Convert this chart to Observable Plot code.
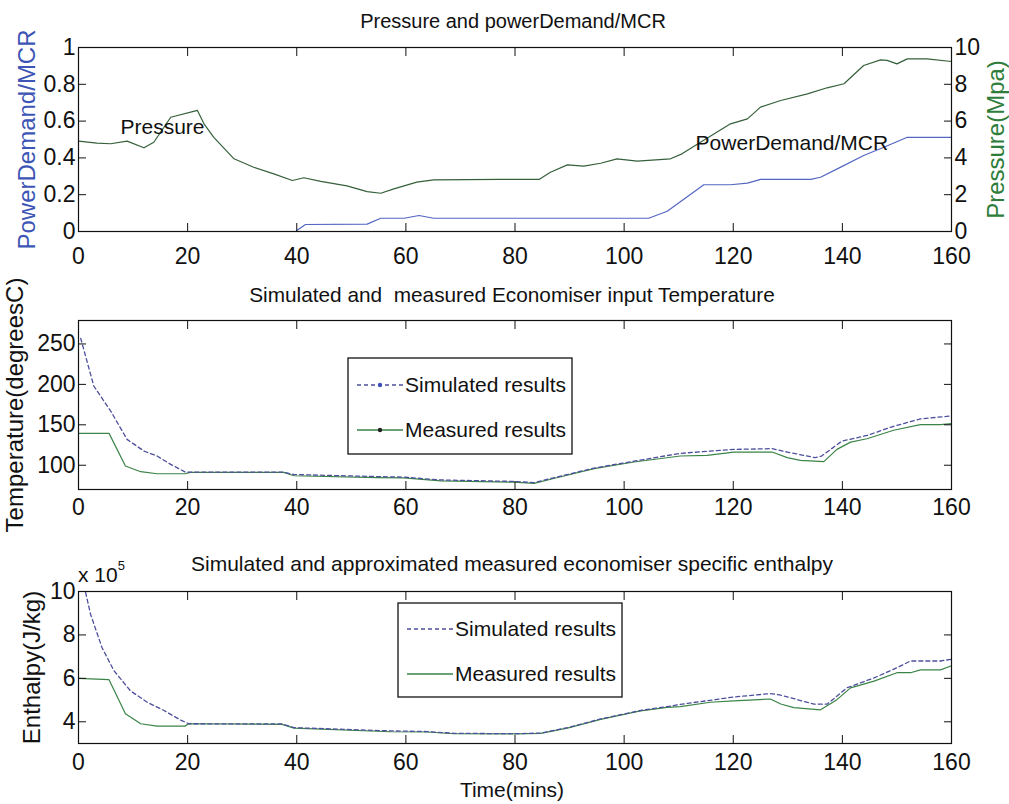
<!DOCTYPE html>
<html>
<head>
<meta charset="utf-8">
<script src="https://cdn.jsdelivr.net/npm/d3@7"></script>
<script src="https://cdn.jsdelivr.net/npm/@observablehq/plot@0.6"></script>
<style>
  body { margin: 0; background: #fff; }
  #wrap { position: relative; width: 1009px; height: 804px; overflow: hidden; background: #fff; }
  .panel { position: absolute; left: 0; }
  #overlay { position: absolute; left: 0; top: 0; pointer-events: none; }
</style>
</head>
<body>
<div id="wrap"></div>
<script>
// ---------- data ----------
const xTicks = [0, 20, 40, 60, 80, 100, 120, 140, 160];
const powerTicks = [0, 0.2, 0.4, 0.6, 0.8, 1];
const pressTicks = [0, 2, 4, 6, 8, 10];
const tempTicks = [100, 150, 200, 250];
const enthTicks = [4, 6, 8, 10];

// Panel 1: pressure (MPa) and power demand / MCR
const pressT = [0, 3.4, 5.9, 8.9, 12, 13.8, 16.9, 21.8, 23, 24.8, 28.5, 32.1, 35.8, 39.2, 41.3, 44.4, 49.2, 52.9, 55.4, 57.8, 62, 65.1, 77.3, 84.4, 86.5, 89.6, 92.6, 95.7, 98.7, 102.4, 108.5, 110.6, 114, 119.5, 122.6, 125, 128.7, 133.6, 137.2, 140.3, 143.9, 147, 148.2, 150, 151.9, 155.5, 160];
const pressV = [4.91, 4.80, 4.77, 4.91, 4.55, 4.85, 6.21, 6.58, 5.85, 5.12, 3.95, 3.49, 3.13, 2.77, 2.92, 2.72, 2.48, 2.17, 2.08, 2.32, 2.68, 2.81, 2.83, 2.83, 3.22, 3.62, 3.55, 3.71, 3.95, 3.82, 3.95, 4.22, 4.85, 5.85, 6.12, 6.76, 7.12, 7.48, 7.81, 8.03, 9.02, 9.33, 9.30, 9.11, 9.38, 9.38, 9.24];
const powerT = [40, 41.6, 52.9, 55.4, 59.7, 62.4, 65.1, 104.5, 107.9, 114.6, 119.5, 122.6, 125, 134.2, 136, 139.7, 143.9, 147.6, 151.9, 160];
const powerV = [0.005, 0.038, 0.04, 0.072, 0.072, 0.087, 0.072, 0.072, 0.11, 0.254, 0.254, 0.263, 0.283, 0.283, 0.295, 0.35, 0.413, 0.458, 0.512, 0.512];
const annotLabels = ["Pressure", "PowerDemand/MCR"];
const annotT = [7.7, 113.1];
const annotV = [0.565, 0.478];

// Panel 2: economiser input temperature (degC)
const tempSimT = [0.4, 2.8, 5.9, 8.9, 12, 14.4, 16.9, 19.6, 21, 37.6, 39.5, 54.7, 59.6, 66.4, 79.8, 83.5, 87.1, 94.5, 101.8, 110.3, 120.1, 127.1, 129.9, 135, 136.2, 139.9, 144.5, 149.4, 154.3, 160];
const tempSimV = [257, 198, 167, 132, 117.5, 111.4, 101.1, 91.5, 91.5, 91.5, 88.5, 86, 85.3, 81.8, 80, 78.5, 84.5, 96.5, 105, 114.7, 119.6, 120.5, 116.3, 109.4, 111.4, 129.8, 136.8, 148.2, 157.3, 161];
const tempMeasT = [0, 5.6, 8.6, 11.4, 14.4, 19.5, 20.5, 37.6, 39.5, 54.7, 59.6, 66.4, 79.8, 83.5, 87.1, 94.5, 101.8, 110.3, 115.2, 120.1, 127.1, 129.9, 132.3, 136.6, 139, 141.5, 144.5, 149.4, 154.3, 158, 160];
const tempMeasV = [139.4, 139.4, 99, 92, 89.5, 89.5, 91.2, 91.2, 87, 84.6, 84.4, 80.7, 79.1, 77.5, 83.6, 95.9, 104, 111.4, 112.3, 116.3, 116.3, 109.4, 106.1, 104.5, 119.6, 128.6, 132.8, 143.3, 150.3, 150.3, 151.5];

// Panel 3: economiser specific enthalpy (x 10^5 J/kg)
const enthSimT = [1.3, 2.2, 4.3, 6.5, 9.5, 12.6, 15.6, 18.7, 20.2, 37.3, 39.5, 57.2, 63.9, 68.8, 79.8, 84.7, 89.6, 95.7, 103, 107.9, 110.3, 120.1, 126.8, 128.7, 134.8, 137.2, 140.8, 145.8, 150, 152.5, 158, 160];
const enthSimV = [9.96, 8.96, 7.42, 6.35, 5.43, 4.9, 4.53, 4.08, 3.91, 3.9, 3.73, 3.58, 3.55, 3.47, 3.45, 3.48, 3.73, 4.13, 4.52, 4.7, 4.8, 5.14, 5.3, 5.23, 4.81, 4.81, 5.56, 6.02, 6.49, 6.8, 6.8, 6.88];
const enthMeasT = [0, 5.6, 8.6, 11.4, 14.4, 19.5, 20.2, 37.3, 39.5, 57.2, 63.9, 68.8, 79.8, 84.7, 89.6, 95.7, 103, 107.9, 110.3, 115.8, 120.1, 126.8, 128.7, 131.1, 136, 139, 141.5, 145.8, 150, 152.5, 154.3, 158, 160];
const enthMeasV = [6.0, 5.94, 4.37, 3.91, 3.8, 3.8, 3.91, 3.88, 3.71, 3.54, 3.53, 3.45, 3.44, 3.47, 3.71, 4.11, 4.5, 4.66, 4.7, 4.9, 4.96, 5.05, 4.82, 4.65, 4.55, 5.02, 5.56, 5.87, 6.26, 6.26, 6.39, 6.39, 6.58];

// ---------- helpers ----------
const zip = (T, V) => T.map((t, i) => ({t, v: V[i]}));
const FONT = '"Liberation Sans", Arial, Helvetica, sans-serif';
const BLUE = "#3d55b5", GREEN = "#2e7d3a";
const SIM = "#4d4f9c", MEAS = "#3b8447", PRESS = "#35603a", POWER = "#5366c2";
const style = {fontFamily: FONT, fontSize: "23px", color: "#111", background: "transparent", overflow: "visible"};

function frameAxes({xPad, yTicks, yFmt, yPad = 11, rightTicks, rightFmt}) {
  return [
    Plot.axisX({ticks: xTicks, anchor: "bottom", tickSize: -8, tickPadding: xPad, label: null, tickFormat: d => String(d)}),
    Plot.axisX({ticks: xTicks, anchor: "top", tickSize: -8, tickFormat: () => "", label: null}),
    Plot.axisY({ticks: yTicks, anchor: "left", tickSize: -8, tickPadding: yPad, label: null, tickFormat: yFmt}),
    Plot.axisY({ticks: rightTicks || yTicks, anchor: "right", tickSize: -8, tickPadding: 11, label: null, tickFormat: rightFmt || (() => "")}),
    Plot.frame({stroke: "#111", strokeWidth: 1.2})
  ];
}
function yLabel(text, side, dx, fill) {
  return Plot.text([text], {frameAnchor: side, dx, rotate: -90, text: d => d, textAnchor: "middle", lineAnchor: "middle", fill, fontSize: 24});
}

const wrap = document.getElementById("wrap");
function place(svg, top) { svg.classList.add("panel"); svg.style.top = top + "px"; wrap.appendChild(svg); }

// ---------- panel 1 ----------
const p1 = Plot.plot({
  width: 1009, height: 262,
  marginLeft: 78, marginRight: 58, marginTop: 47, marginBottom: 31,
  x: {domain: [0, 160]}, y: {domain: [0, 1]},
  style,
  marks: [
    Plot.line(zip(pressT, pressV), {x: "t", y: d => d.v / 10, stroke: PRESS, strokeWidth: 1.2}),
    Plot.line(zip(powerT, powerV), {x: "t", y: "v", stroke: POWER, strokeWidth: 1.2}),
    Plot.text(annotLabels, {x: annotT, y: annotV, text: d => d, textAnchor: "start", fontSize: 21, fill: "#111"}),
    ...frameAxes({xPad: 24, yTicks: powerTicks, yFmt: d => String(d),
                  rightTicks: pressTicks.map(p => p / 10), rightFmt: d => String(Math.round(d * 10))}),
    yLabel("PowerDemand/MCR", "left", -51, BLUE),
    yLabel("Pressure(Mpa)", "right", 45, GREEN)
  ]
});
place(p1, 0);

// ---------- panel 2 ----------
const p2 = Plot.plot({
  width: 1009, height: 270,
  marginLeft: 78, marginRight: 58, marginTop: 58, marginBottom: 43,
  x: {domain: [0, 160]}, y: {domain: [70, 279]},
  style,
  marks: [
    Plot.line(zip(tempMeasT, tempMeasV), {x: "t", y: "v", stroke: MEAS, strokeWidth: 1.2}),
    Plot.line(zip(tempSimT, tempSimV), {x: "t", y: "v", stroke: SIM, strokeWidth: 1.3, strokeDasharray: "4,3"}),
    ...frameAxes({xPad: 17, yTicks: tempTicks, yFmt: d => String(d)}),
    yLabel("Temperature(degreesC)", "left", -63, "#111")
  ]
});
place(p2, 262);

// ---------- panel 3 ----------
const p3 = Plot.plot({
  width: 1009, height: 272,
  marginLeft: 78, marginRight: 58, marginTop: 59, marginBottom: 61,
  x: {domain: [0, 160]}, y: {domain: [3, 10]},
  style,
  marks: [
    Plot.line(zip(enthMeasT, enthMeasV), {x: "t", y: "v", stroke: MEAS, strokeWidth: 1.2}),
    Plot.line(zip(enthSimT, enthSimV), {x: "t", y: "v", stroke: SIM, strokeWidth: 1.3, strokeDasharray: "4,3"}),
    ...frameAxes({xPad: 18, yTicks: enthTicks, yFmt: d => String(d)}),
    yLabel("Enthalpy(J/kg)", "left", -46, "#111")
  ]
});
place(p3, 532);

// ---------- overlay: titles, legends, notes ----------
const ov = d3.select(wrap).append("svg").attr("id", "overlay")
  .attr("width", 1009).attr("height", 804)
  .style("font-family", FONT).attr("fill", "#111");

const titles = [
  {text: "Pressure and powerDemand/MCR", x: 513, y: 28, size: 20},
  {text: "Simulated and  measured Economiser input Temperature", x: 512, y: 302, size: 20.8},
  {text: "Simulated and approximated measured economiser specific enthalpy", x: 512, y: 571, size: 21}
];
ov.selectAll("text.title").data(titles).join("text").attr("class", "title")
  .attr("x", d => d.x).attr("y", d => d.y).attr("text-anchor", "middle")
  .style("font-size", d => d.size + "px").style("white-space", "pre").text(d => d.text);

ov.append("text").attr("x", 512).attr("y", 797).attr("text-anchor", "middle")
  .style("font-size", "21px").text("Time(mins)");

const exp = ov.append("text").attr("x", 78).attr("y", 582).style("font-size", "21px");
exp.append("tspan").text("x 10");
exp.append("tspan").attr("dy", -12).style("font-size", "13px").text("5");

function legend(x0, y0, w, h, rows, dots) {
  const g = ov.append("g");
  g.append("rect").attr("x", x0).attr("y", y0).attr("width", w).attr("height", h)
    .attr("fill", "#fff").attr("stroke", "#111").attr("stroke-width", 1.3);
  rows.forEach(r => {
    g.append("line").attr("x1", x0 + 9).attr("x2", x0 + 55).attr("y1", r.y).attr("y2", r.y)
      .attr("stroke", r.color).attr("stroke-width", 1.3).attr("stroke-dasharray", r.dash || null);
    if (dots) g.append("circle").attr("cx", x0 + 32).attr("cy", r.y).attr("r", 2.2).attr("fill", r.dotColor);
    g.append("text").attr("x", x0 + 57).attr("y", r.y).attr("dy", "0.35em")
      .style("font-size", "21px").text(r.label);
  });
}
legend(348, 358, 224, 96, [
  {label: "Simulated results", y: 385, color: SIM, dash: "4,3", dotColor: "#3d4fb8"},
  {label: "Measured results", y: 430, color: MEAS, dotColor: "#222"}
], true);
legend(398, 603, 224, 94, [
  {label: "Simulated results", y: 629, color: SIM, dash: "4,3"},
  {label: "Measured results", y: 674, color: MEAS}
], false);
</script>
</body>
</html>
